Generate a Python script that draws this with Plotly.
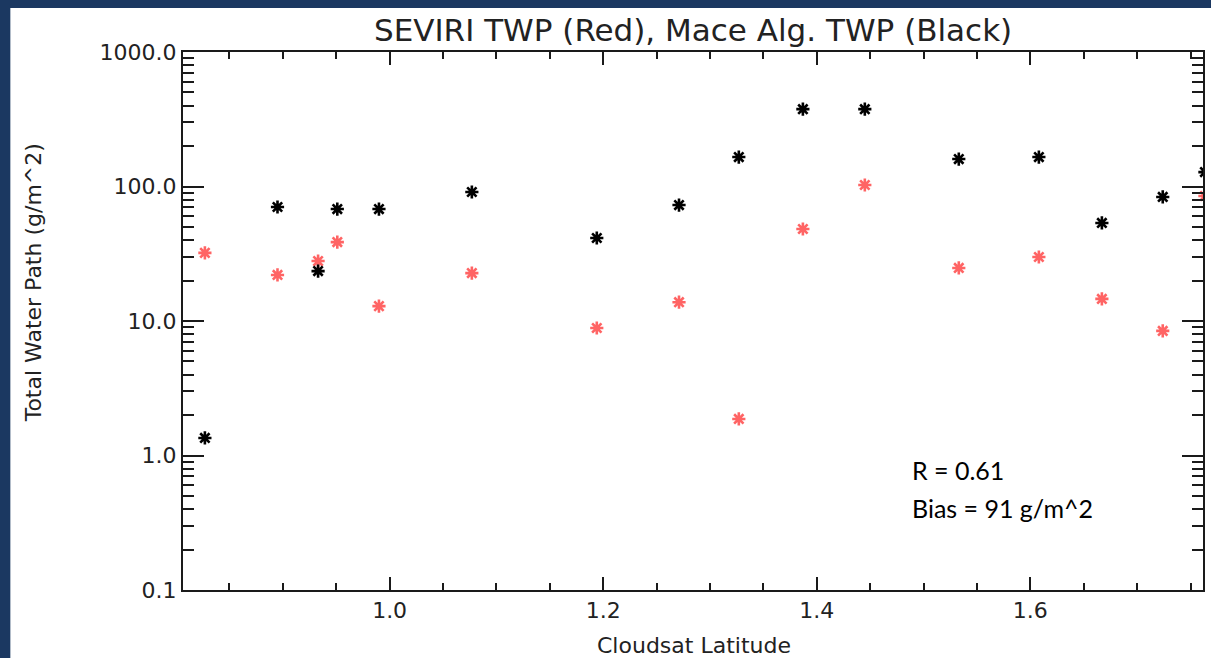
import plotly.graph_objects as go

# ---- data ----
latitude = [0.827, 0.895, 0.933, 0.951, 0.990, 1.077, 1.194, 1.271, 1.327, 1.387,
            1.445, 1.533, 1.608, 1.667, 1.724, 1.7635]
mace_twp = [1.35, 70.4, 23.5, 68.0, 68.0, 91.0, 41.4, 72.8, 165.6, 376.0,
            376.0, 160.0, 165.6, 53.6, 83.6, 128.0]
seviri_twp = [32.1, 22.0, 27.9, 38.6, 12.9, 22.7, 8.87, 13.8, 1.87, 48.3,
              102.6, 24.8, 29.9, 14.6, 8.44, 85.0]
y_tickvals = [0.1, 1, 10, 100, 1000]
y_ticktext = ["0.1", "1.0", "10.0", "100.0", "1000.0"]
x_range = [0.8065, 1.7617]
title_text = "SEVIRI TWP (Red), Mace Alg. TWP (Black)"
x_title = "Cloudsat Latitude"
y_title = "Total Water Path (g/m^2)"
stats_text = ["R = 0.61", "Bias = 91 g/m^2"]

# ---- layout geometry (pixels) ----
W, H = 1211, 658
L, R, T, B = 183, 1205, 52, 590
PW, PH = R - L, B - T


def px(x):
    return (x - L) / PW


def py(y):
    return (B - y) / PH


NAVY = "#1b3861"
INK = "#1a1a1a"
RED = "#ff6464"
TICKFONT = dict(family="DejaVu Sans", size=22, color="#222222")

fig = go.Figure()
fig.add_trace(go.Scatter(
    x=latitude, y=seviri_twp, mode="markers", name="SEVIRI",
    marker=dict(symbol="asterisk", size=11, color=RED,
                line=dict(color=RED, width=2.6)),
))
fig.add_trace(go.Scatter(
    x=latitude, y=mace_twp, mode="markers", name="Mace",
    marker=dict(symbol="asterisk", size=11, color="black",
                line=dict(color="black", width=2.6)),
))

axis_common = dict(
    showgrid=False, zeroline=False, showline=True, linecolor=INK, linewidth=2,
    mirror="ticks", ticks="inside", tickcolor=INK, tickwidth=2,
    tickfont=TICKFONT,
)

fig.update_xaxes(
    range=x_range, tick0=1.0, dtick=0.2, tickformat=".1f", ticklen=13,
    minor=dict(ticks="inside", ticklen=7, tickcolor=INK, tickwidth=2,
               tick0=1.0, dtick=0.05, showgrid=False),
    **axis_common,
)
fig.update_yaxes(
    type="log", range=[-1, 3], tickvals=y_tickvals, ticktext=y_ticktext,
    ticklen=21,
    minor=dict(ticks="inside", ticklen=11, tickcolor=INK, tickwidth=2,
               dtick="D1", showgrid=False),
    **axis_common,
)

annotations = [
    dict(text=title_text, x=px(694), y=py(30), xref="paper", yref="paper",
         showarrow=False, xanchor="center", yanchor="middle",
         font=dict(family="DejaVu Sans", size=31, color="#222222")),
    dict(text=x_title, x=px(695), y=py(645), xref="paper", yref="paper",
         showarrow=False, xanchor="center", yanchor="middle",
         font=dict(family="DejaVu Sans", size=22, color="#222222")),
    dict(text=y_title, x=px(33), y=py(283), xref="paper", yref="paper",
         showarrow=False, xanchor="center", yanchor="middle", textangle=-90,
         font=dict(family="DejaVu Sans", size=22, color="#222222")),
    dict(text=stats_text[0], x=px(911), y=py(470), xref="paper", yref="paper",
         showarrow=False, xanchor="left", yanchor="middle",
         font=dict(family="Lato", size=25, color="black")),
    dict(text=stats_text[1], x=px(911), y=py(508), xref="paper", yref="paper",
         showarrow=False, xanchor="left", yanchor="middle",
         font=dict(family="Lato", size=25, color="black")),
]

fig.update_layout(
    width=W, height=H, autosize=False,
    margin=dict(l=L, r=W - R, t=T, b=H - B, pad=0),
    paper_bgcolor=NAVY, plot_bgcolor="white",
    showlegend=False,
    annotations=annotations,
    shapes=[dict(type="rect", xref="paper", yref="paper", layer="below",
                 x0=px(10), x1=px(W + 5), y0=py(8), y1=py(H + 5),
                 fillcolor="white", line=dict(width=0))],
)

fig.write_html(
    "out.html",
    config={"displayModeBar": False},
    post_script="document.body.style.margin='0';document.body.style.overflow='hidden';",
)
